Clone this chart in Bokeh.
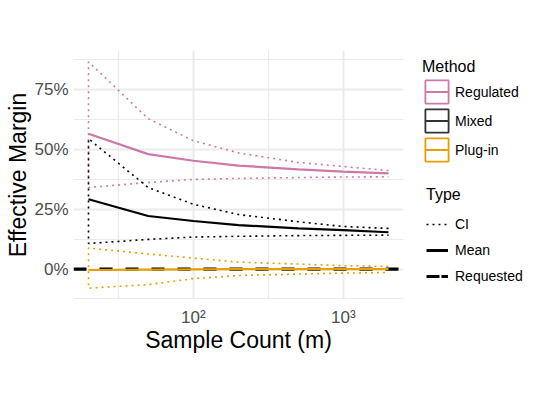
import math
from bokeh.plotting import figure
from bokeh.layouts import row
from bokeh.models import Range1d, FixedTicker, NumeralTickFormatter, Span, Legend, LegendItem
from bokeh.embed import file_html
from bokeh.resources import INLINE

# ---------------- data ----------------
sample_count = [20, 50, 100, 200, 500, 1000, 2000]

regulated_mean = [0.566, 0.481, 0.453, 0.433, 0.417, 0.408, 0.400]
regulated_ci_upper = [0.867, 0.629, 0.537, 0.486, 0.446, 0.429, 0.412]
regulated_ci_lower = [0.341, 0.362, 0.375, 0.379, 0.383, 0.385, 0.386]

mixed_mean = [0.292, 0.222, 0.201, 0.184, 0.170, 0.163, 0.154]
mixed_ci_upper = [0.545, 0.341, 0.271, 0.228, 0.198, 0.178, 0.170]
mixed_ci_lower = [0.107, 0.124, 0.134, 0.137, 0.140, 0.141, 0.142]

plugin_mean = [-0.004, -0.002, -0.001, 0.0, 0.0, 0.0, 0.0]
plugin_ci_upper = [0.088, 0.063, 0.046, 0.029, 0.021, 0.014, 0.011]
plugin_ci_lower = [-0.080, -0.065, -0.040, -0.027, -0.021, -0.017, -0.014]

requested_margin = 0.0

methods = ["Regulated", "Mixed", "Plug-in"]
method_colors = ["#CC79A7", "#000000", "#E69F00"]
method_box_colors = ["#CC79A7", "#333333", "#E69F00"]
types = ["CI", "Mean", "Requested"]

x_ticks = [100, 1000]
x_tick_labels = ["10²", "10³"]
x_minor_ticks = [10 ** 1.5, 10 ** 2.5]
y_ticks = [0.0, 0.25, 0.5, 0.75]
y_minor_ticks = [-0.125, 0.125, 0.375, 0.625, 0.875]

series = [
    (regulated_mean, regulated_ci_upper, regulated_ci_lower),
    (mixed_mean, mixed_ci_upper, mixed_ci_lower),
    (plugin_mean, plugin_ci_upper, plugin_ci_lower),
]

# ---------------- ranges (ggplot-like 5% expansion) ----------------
lx0, lx1 = math.log10(min(sample_count)), math.log10(max(sample_count))
px = 0.05 * (lx1 - lx0)
all_lo = min(min(s[2]) for s in series)
all_hi = max(max(s[1]) for s in series)
py = 0.05 * (all_hi - all_lo)

FONT = "Liberation Sans"
GRID = "#EBEBEB"
H = 389
NAN = [float("nan")]
DOT = "2 4"

p = figure(width=410, height=H, x_axis_type="log",
           x_range=Range1d(10 ** (lx0 - px), 10 ** (lx1 + px)),
           y_range=Range1d(all_lo - py, all_hi + py),
           output_backend="svg", toolbar_location=None,
           min_border_left=73, min_border_right=7,
           min_border_top=50, min_border_bottom=90)

p.outline_line_color = None
p.background_fill_color = "white"
p.border_fill_color = "white"

p.xaxis.ticker = FixedTicker(ticks=x_ticks, minor_ticks=x_minor_ticks)
p.yaxis.ticker = FixedTicker(ticks=y_ticks, minor_ticks=y_minor_ticks)
p.xaxis.major_label_overrides = dict(zip(x_ticks, x_tick_labels))
p.yaxis.formatter = NumeralTickFormatter(format="0%")

for g in (p.xgrid, p.ygrid):
    g.grid_line_color = GRID
    g.grid_line_width = 2
    g.minor_grid_line_color = GRID
    g.minor_grid_line_width = 1.2

for ax in p.axis:
    ax.axis_line_color = None
    ax.major_tick_line_color = None
    ax.minor_tick_line_color = None
    ax.major_tick_out = 0
    ax.major_tick_in = 0
    ax.minor_tick_out = 0
    ax.minor_tick_in = 0
    ax.major_label_text_font = FONT
    ax.major_label_text_font_size = "17px"
    ax.major_label_text_color = "#4D4D4D"
    ax.axis_label_text_font = FONT
    ax.axis_label_text_font_size = "23px"
    ax.axis_label_text_font_style = "normal"
    ax.axis_label_text_color = "black"
    ax.axis_label_standoff = 0

p.xaxis.major_label_standoff = 8
p.xaxis.axis_label_standoff = -3
p.yaxis.major_label_standoff = 5
p.xaxis.axis_label = "Sample Count (m)"
p.yaxis.axis_label = "Effective Margin"

# requested margin (dashed, full width, beneath the data lines)
p.add_layout(Span(location=requested_margin, dimension="width", line_color="black",
                  line_width=3.3, line_dash="13 13", level="underlay"))

# confidence interval outlines (dotted)
for (mean, hi, lo), col in zip(series, method_colors):
    xs = sample_count[::-1] + sample_count
    ys = hi[::-1] + lo
    p.line(xs, ys, line_color=col, line_width=1.6, line_dash=DOT)

# means
for (mean, hi, lo), col in zip(series, method_colors):
    p.line(sample_count, mean, line_color=col, line_width=2.2)

# ---------------- legend panel (separate figure) ----------------
lg = figure(width=114, height=H, x_range=Range1d(0, 1), y_range=Range1d(0, 1),
            output_backend="svg", toolbar_location=None,
            x_axis_location=None, y_axis_location=None,
            min_border_left=0, min_border_right=0, min_border_top=0, min_border_bottom=0)
lg.outline_line_color = None
lg.xgrid.visible = False
lg.ygrid.visible = False
lg.background_fill_color = "white"
lg.border_fill_color = "white"

method_items = []
for name, col in zip(methods, method_box_colors):
    box = lg.quad(left=NAN, right=NAN, top=NAN, bottom=NAN, fill_color=None,
                  line_color=col, line_width=1.8)
    ln = lg.line(x=NAN, y=NAN, line_color=col, line_width=1.8, line_dash="0 3 23 100")
    method_items.append(LegendItem(label=name, renderers=[box, ln]))

ci_key = lg.line(x=NAN, y=NAN, line_color="black", line_width=1.6, line_dash=DOT)
mean_key = lg.line(x=NAN, y=NAN, line_color="black", line_width=3)
req_key = lg.line(x=NAN, y=NAN, line_color="black", line_width=3, line_dash="13 2")
type_items = [LegendItem(label=t, renderers=[r]) for t, r in zip(types, [ci_key, mean_key, req_key])]


def style_legend(leg):
    leg.border_line_color = None
    leg.background_fill_alpha = 0
    leg.padding = 0
    leg.margin = 0
    leg.label_text_font = FONT
    leg.label_text_font_size = "14px"
    leg.label_text_color = "black"
    leg.title_text_font = FONT
    leg.title_text_font_size = "16px"
    leg.title_text_font_style = "normal"
    leg.title_text_color = "black"


leg1 = Legend(items=method_items, title="Method", location=(12, 135))
style_legend(leg1)
leg1.glyph_width = 29
leg1.glyph_height = 29
leg1.spacing = -3
leg1.label_standoff = 4
leg1.title_standoff = 1
lg.add_layout(leg1)

leg2 = Legend(items=type_items, title="Type", location=(16, 10))
style_legend(leg2)
leg2.glyph_width = 22
leg2.glyph_height = 26
leg2.spacing = 0
leg2.label_standoff = 7
leg2.title_standoff = 7
lg.add_layout(leg2)

layout = row(p, lg)
open("out.html", "w").write(file_html(layout, INLINE))
